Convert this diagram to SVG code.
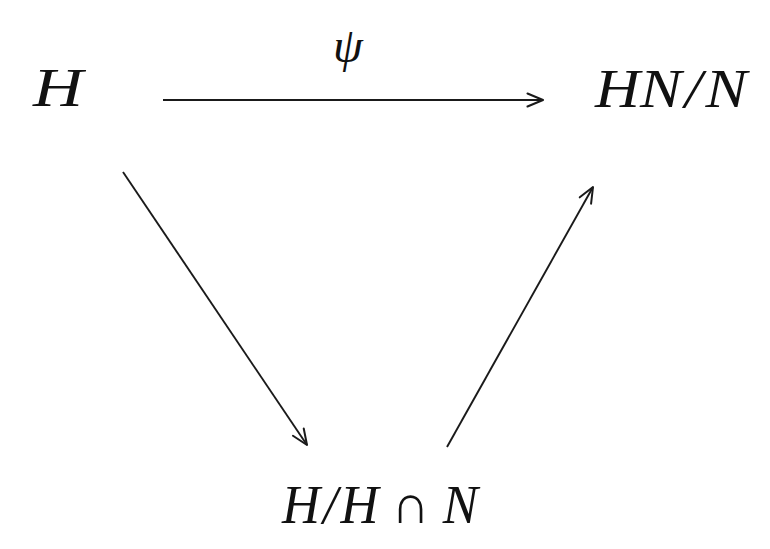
<svg xmlns="http://www.w3.org/2000/svg" width="770" height="549" viewBox="0 0 770 549">
<defs>
<style>
.t{font-family:"Liberation Serif","DejaVu Serif",serif;font-style:italic;fill:#111;}
.c{stroke:#1a1a1a;stroke-width:1.9;fill:none;}
</style>
<marker id="ah" viewBox="0 0 18 16" refX="17" refY="8" markerWidth="18" markerHeight="16" markerUnits="userSpaceOnUse" orient="auto">
<path d="M1.5,1.5 L17,8 L1.5,14.5" fill="none" stroke="#1a1a1a" stroke-width="2" stroke-linecap="round" stroke-linejoin="round"/>
</marker>
</defs>
<rect width="770" height="549" fill="#fff"/>
<g id="node-H">
<text class="t" x="33" y="106" font-size="55" textLength="50" lengthAdjust="spacingAndGlyphs">H</text>
</g>
<g id="node-HNN">
<text class="t" x="595" y="107" font-size="55" textLength="152" lengthAdjust="spacingAndGlyphs">HN<tspan dx="3">/</tspan><tspan dx="3">N</tspan></text>
</g>
<g id="node-quot">
<text class="t" x="282" y="523" font-size="55" textLength="196" lengthAdjust="spacingAndGlyphs">H<tspan dx="3">/</tspan><tspan dx="3">H</tspan><tspan font-style="normal"> ∩ </tspan>N</text>
</g>
<g id="connectors">
<line class="c" x1="163" y1="100" x2="543" y2="100" marker-end="url(#ah)"/>
<line class="c" x1="123" y1="172" x2="307" y2="445" marker-end="url(#ah)"/>
<line class="c" x1="447" y1="447" x2="593" y2="187" marker-end="url(#ah)"/>
<text class="t" x="348" y="62" font-size="48" text-anchor="middle">ψ</text>
</g>
</svg>
